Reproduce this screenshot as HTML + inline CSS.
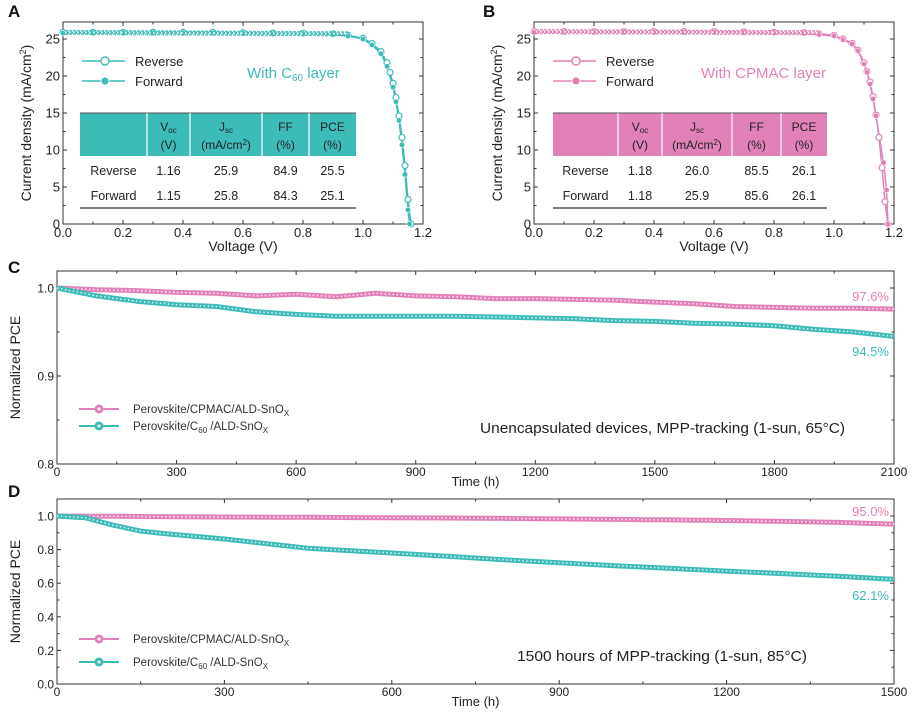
<!DOCTYPE html>
<html><head><meta charset="utf-8">
<style>
html,body{margin:0;padding:0;background:#fff;}
svg{display:block;font-family:"Liberation Sans",sans-serif;}
.nar{font-family:"Liberation Sans Narrow","Liberation Sans",sans-serif;}
</style></head>
<body>
<svg id="fig" width="912" height="712" viewBox="0 0 912 712" xmlns="http://www.w3.org/2000/svg"></svg>
<script>
// ---- Panel A data (C60) ----
const aRevV=[0,0.1,0.2,0.3,0.4,0.5,0.6,0.7,0.8,0.9,0.95,1.0,1.03,1.06,1.08,1.09,1.1,1.11,1.12,1.13,1.14,1.15,1.16];
const aRevJ=[25.9,25.9,25.9,25.9,25.9,25.9,25.85,25.8,25.8,25.7,25.5,25.1,24.4,23.3,21.8,20.5,19.0,17.1,14.6,11.7,7.9,3.3,0];
const aFwdV=[0,0.1,0.2,0.3,0.4,0.5,0.6,0.7,0.8,0.9,0.95,1.0,1.03,1.06,1.08,1.1,1.11,1.12,1.13,1.14,1.15,1.155];
const aFwdJ=[25.8,25.8,25.8,25.8,25.8,25.8,25.75,25.7,25.7,25.6,25.4,25.0,24.2,23.0,21.3,18.5,16.5,14.0,10.7,6.7,1.9,0];
// ---- Panel B data (CPMAC) ----
const bRevV=[0,0.1,0.2,0.3,0.4,0.5,0.6,0.7,0.8,0.9,0.95,1.0,1.03,1.06,1.08,1.1,1.11,1.12,1.13,1.14,1.15,1.16,1.17,1.18];
const bRevJ=[26.0,26.0,26.0,26.0,26.0,26.0,26.0,25.95,25.9,25.85,25.7,25.5,25.0,24.4,23.5,21.8,20.6,19.2,17.2,14.7,11.7,7.6,3.0,0];
const bFwdV=[0,0.1,0.2,0.3,0.4,0.5,0.6,0.7,0.8,0.9,0.95,1.0,1.03,1.06,1.08,1.1,1.11,1.12,1.13,1.14,1.165,1.175,1.18];
const bFwdJ=[25.9,25.9,25.9,25.9,25.9,25.9,25.9,25.85,25.8,25.75,25.6,25.4,24.9,24.3,23.4,21.6,20.5,18.9,16.9,14.6,8.3,4.6,0];
// ---- Panel C data (65C) ----
const cTime=[0,100,200,300,400,500,600,700,800,900,1000,1100,1200,1300,1400,1500,1600,1700,1800,1900,2000,2100];
const cCPMAC=[1.000,0.998,0.997,0.995,0.994,0.991,0.993,0.990,0.994,0.991,0.990,0.988,0.988,0.987,0.986,0.984,0.982,0.979,0.978,0.977,0.977,0.976];
const cC60=[1.000,0.991,0.985,0.981,0.979,0.973,0.970,0.968,0.968,0.968,0.968,0.967,0.966,0.965,0.963,0.962,0.960,0.959,0.957,0.953,0.950,0.945];
// ---- Panel D data (85C) ----
const dTime=[0,50,100,150,200,300,400,450,500,600,700,800,900,1000,1100,1200,1300,1400,1500];
const dCPMAC=[1.000,0.999,0.998,0.997,0.996,0.994,0.993,0.992,0.991,0.989,0.988,0.986,0.983,0.980,0.977,0.973,0.968,0.962,0.952];
const dC60=[1.000,0.990,0.946,0.910,0.893,0.863,0.827,0.808,0.798,0.780,0.760,0.740,0.722,0.704,0.688,0.672,0.657,0.641,0.623];
// ---- ticks ----
const jvXTicks=["0.0","0.2","0.4","0.6","0.8","1.0","1.2"];
const jvYTicks=["0","5","10","15","20","25"];
const cXTicks=["0","300","600","900","1200","1500","1800","2100"];
const cYTicks=["0.8","0.9","1.0"];
const dXTicks=["0","300","600","900","1200","1500"];
const dYTicks=["0.0","0.2","0.4","0.6","0.8","1.0"];

const TEAL="#3dbcb7", PINK="#e281b7", TXT="#222";
const NS="http://www.w3.org/2000/svg";
const svg=document.getElementById('fig');
function mk(tag,attrs,parent,txt){const e=document.createElementNS(NS,tag);for(const k in attrs)e.setAttribute(k,attrs[k]);if(txt!==undefined)e.textContent=txt;(parent||svg).appendChild(e);return e;}
function lin(d0,d1,r0,r1){return v=>r0+(v-d0)/(d1-d0)*(r1-r0);}

function axesBox(g,x0,y0,x1,y1){
  const r=mk('rect',{x:x0,y:y0,width:x1-x0,height:y1-y0,fill:'none',stroke:'#333','stroke-width':1},g);
  
}
function xTicks(g,labels,sx,y0,y1,fs,cls,nameP,off){
  labels.forEach((l,i)=>{const v=parseFloat(l);const x=sx(v);
    mk('line',{x1:x,x2:x,y1:y1,y2:y1-4,stroke:'#333'},g);mk('line',{x1:x,x2:x,y1:y0,y2:y0+4,stroke:'#333'},g);
    const t=mk('text',{x:x,y:y1+off,'text-anchor':'middle','font-size':fs,fill:TXT,class:cls||''},g,l);
    
    if(i<labels.length-1){const xm=(x+sx(parseFloat(labels[i+1])))/2;mk('line',{x1:xm,x2:xm,y1:y1,y2:y1-2.5,stroke:'#333'},g);mk('line',{x1:xm,x2:xm,y1:y0,y2:y0+2.5,stroke:'#333'},g);}
  });
}
function yTicks(g,labels,sy,x0,x1,fs,nameP){
  labels.forEach((l,i)=>{const v=parseFloat(l);const y=sy(v);
    mk('line',{x1:x0,x2:x0+4,y1:y,y2:y,stroke:'#333'},g);mk('line',{x1:x1,x2:x1-4,y1:y,y2:y,stroke:'#333'},g);
    const t=mk('text',{x:x0-3,y:y+4.5,'text-anchor':'end','font-size':fs,fill:TXT},g,l);
    
    if(i<labels.length-1){const ym=(y+sy(parseFloat(labels[i+1])))/2;mk('line',{x1:x0,x2:x0+2.5,y1:ym,y2:ym,stroke:'#333'},g);mk('line',{x1:x1,x2:x1-2.5,y1:ym,y2:ym,stroke:'#333'},g);}
  });
}
function pts(xs,ys,sx,sy){return xs.map((x,i)=>sx(x).toFixed(1)+','+sy(ys[i]).toFixed(1)).join(' ');}

function jvPanel(px0,xs,js,xs2,js2,col,label,table,letter,lx,name){
  const g=mk('g',{});
  const x0=px0,x1=px0+360,y0=22,y1=224;
  const sx=lin(0,1.2,x0,x1), sy=lin(0,25,224,39);
  axesBox(g,x0,y0,x1,y1);
  xTicks(g,jvXTicks,sx,y0,y1,13,'',name,13);yTicks(g,jvYTicks,sy,x0,x1,13,name);
  const pr=mk('polyline',{points:pts(xs,js,sx,sy),fill:'none',stroke:col,'stroke-width':1.5},g);
  
  const pf=mk('polyline',{points:pts(xs2,js2,sx,sy),fill:'none',stroke:col,'stroke-width':1.5},g);
  
  xs.forEach((v,i)=>{const c=mk('circle',{cx:sx(v),cy:sy(js[i]),r:3,fill:'#fff',stroke:col,'stroke-width':1.2},g);
    });
  xs2.forEach((v,i)=>{const c=mk('circle',{cx:sx(v),cy:sy(js2[i]),r:2.8,fill:col,stroke:'#fff','stroke-width':0.6},g);
    });
  mk('line',{x1:x0+2,x2:sx(0.95),y1:sy(js[0]),y2:sy(js[9]),stroke:col,'stroke-width':5,'stroke-dasharray':'3 1','opacity':0.85},g);
  mk('line',{x1:x0+2,x2:sx(0.95),y1:sy(js[0]),y2:sy(js[9]),stroke:'#fff','stroke-width':2,'stroke-dasharray':'1.5 2.5'},g);
  const L=mk('g',{},g);
  mk('line',{x1:x0+19,x2:x0+62,y1:61,y2:61,stroke:col,'stroke-width':1.5},L);
  mk('circle',{cx:x0+42,cy:61,r:4,fill:'#fff',stroke:col,'stroke-width':1.4},L);
  mk('text',{x:x0+72,y:66,'font-size':13,fill:TXT},L,'Reverse');
  mk('line',{x1:x0+19,x2:x0+62,y1:81,y2:81,stroke:col,'stroke-width':1.5},L);
  mk('circle',{cx:x0+42,cy:81,r:4,fill:col,stroke:'#fff','stroke-width':0.8},L);
  mk('text',{x:x0+72,y:86,'font-size':13,fill:TXT},L,'Forward');
  const lab=mk('text',{x:x0+lx,y:78,'font-size':15,fill:col},g);lab.innerHTML=label;
  
  const T=mk('g',{},g);
  const tx0=table.x0, tx1=table.x1, cols=table.cols;
  mk('rect',{x:tx0,y:113,width:tx1-tx0,height:43,fill:col},T);
  mk('line',{x1:tx0,x2:tx1,y1:113,y2:113,stroke:'#555','stroke-width':1},T);
  mk('line',{x1:tx0,x2:tx1,y1:208,y2:208,stroke:'#333','stroke-width':1.2},T);
  cols.forEach(c=>mk('line',{x1:c,x2:c,y1:113,y2:156,stroke:'#fff','stroke-width':1.2},T));
  const centers=[(cols[0]+cols[1])/2,(cols[1]+cols[2])/2,(cols[2]+cols[3])/2,(cols[3]+tx1)/2];
  const h1=['V<tspan font-size="8" dy="2">oc</tspan>','J<tspan font-size="8" dy="2">sc</tspan>','FF','PCE'];
  const h2=['(V)','(mA/cm<tspan font-size="8" dy="-4">2</tspan><tspan dy="4">)</tspan>','(%)','(%)'];
  centers.forEach((cx,i)=>{const a=mk('text',{x:cx,y:131,'text-anchor':'middle','font-size':12,fill:'#222'},T);a.innerHTML=h1[i];
    const b=mk('text',{x:cx,y:149,'text-anchor':'middle','font-size':12,fill:'#222'},T);b.innerHTML=h2[i];});
  const rowX=(tx0+cols[0])/2;
  table.rows.forEach((r,k)=>{const y=175+k*25;
    mk('text',{x:rowX,y:y,'text-anchor':'middle','font-size':12.5,fill:'#222'},T,r[0]);
    centers.forEach((cx,i)=>mk('text',{x:cx,y:y,'text-anchor':'middle','font-size':12.5,fill:'#222'},T,r[i+1]));});
  const xt=mk('text',{x:(x0+x1)/2,y:251,'text-anchor':'middle','font-size':14,fill:TXT},g,'Voltage (V)');
  
  const yt=mk('text',{x:0,y:0,'text-anchor':'middle','font-size':14,fill:TXT,transform:`translate(${x0-32},123) rotate(-90)`},g);
  yt.innerHTML='Current density (mA/cm<tspan font-size="9" dy="-5">2</tspan><tspan dy="5">)</tspan>';
  
  const pl=mk('text',{x:letter[0],y:letter[1],'font-size':17,'font-weight':'bold',fill:'#111'},g,letter[2]);
  
}

jvPanel(63,aRevV,aRevJ,aFwdV,aFwdJ,TEAL,'With C<tspan font-size="10" dy="3">60</tspan><tspan dy="-3"> layer</tspan>',
  {x0:80,x1:356,cols:[147,190,262,309],rows:[['Reverse','1.16','25.9','84.9','25.5'],['Forward','1.15','25.8','84.3','25.1']]},[8,17,'A'],184,'panel-a');
jvPanel(534,bRevV,bRevJ,bFwdV,bFwdJ,PINK,'With CPMAC layer',
  {x0:553,x1:827,cols:[618,662,732,781],rows:[['Reverse','1.18','26.0','85.5','26.1'],['Forward','1.18','25.9','85.6','26.1']]},[483,17,'B'],167,'panel-b');

function stabPanel(o){
  const g=mk('g',{});
  const x0=57,x1=894,y0=o.y0,y1=o.y1;
  const sx=lin(0,o.tmax,x0,x1), sy=lin(o.ymin,o.ymax,y1,o.ytop);
  axesBox(g,x0,y0,x1,y1);
  xTicks(g,o.xt,sx,y0,y1,12,'nar',o.name,12);yTicks(g,o.yt,sy,x0,x1,12,o.name);
  [[o.pink,PINK,'cpmac-series'],[o.teal,TEAL,'c60-series']].forEach(([ys,col,nm])=>{
    const p=mk('polyline',{points:pts(o.t,ys,sx,sy),fill:'none',stroke:col,'stroke-width':5,'stroke-linejoin':'round'},g);
    
    mk('polyline',{points:pts(o.t,ys,sx,sy),fill:'none',stroke:'#fff','stroke-width':1.6,'stroke-dasharray':'1.5 2.5','opacity':0.8},g);
  });
  const L=mk('g',{},g);
  [[PINK,o.ly[0],'Perovskite/CPMAC/ALD-SnO<tspan font-size="8" dy="3">X</tspan>'],[TEAL,o.ly[1],'Perovskite/C<tspan font-size="8" dy="3">60</tspan><tspan dy="-3"> /ALD-SnO</tspan><tspan font-size="8" dy="3">X</tspan>']].forEach(([col,y,txt])=>{
    mk('line',{x1:79,x2:119,y1:y,y2:y,stroke:col,'stroke-width':2},L);
    mk('circle',{cx:99,cy:y,r:4.5,fill:col},L);mk('circle',{cx:99,cy:y,r:1.5,fill:'#fff'},L);
    const t=mk('text',{x:133,y:y+4,'font-size':11.5,fill:'#333',class:'nar'},L);t.innerHTML=txt;});
  const an=mk('text',{x:o.ax,y:o.ay,'font-size':15,fill:'#222',class:'nar',textLength:o.aw,lengthAdjust:'spacingAndGlyphs'},g,o.note);
  
  const p1=mk('text',{x:889,y:sy(o.pink[o.pink.length-1])-8,'text-anchor':'end','font-size':13,fill:PINK,class:'nar'},g,o.pl);
  
  const p2=mk('text',{x:889,y:o.tly,'text-anchor':'end','font-size':13,fill:TEAL,class:'nar'},g,o.tl);
  
  const xt=mk('text',{x:(x0+x1)/2,y:y1+o.tty,'text-anchor':'middle','font-size':13,fill:TXT,class:'nar'},g,'Time (h)');
  
  const yt=mk('text',{x:0,y:0,'text-anchor':'middle','font-size':14,fill:TXT,transform:`translate(${o.ytx},${(y0+y1)/2}) rotate(-90)`},g,'Normalized PCE');
  
  const pl=mk('text',{x:8,y:o.ly0,'font-size':17,'font-weight':'bold',fill:'#111'},g,o.letter);
  
}
stabPanel({name:'panel-c',y0:271,y1:464,ytop:288,ymin:0.8,ymax:1.0,tmax:2100,t:cTime,pink:cCPMAC,teal:cC60,xt:cXTicks,yt:cYTicks,
  ly:[409,426],ax:480,ay:433,aw:365,note:'Unencapsulated devices, MPP-tracking (1-sun, 65°C)',pl:'97.6%',tl:'94.5%',tly:356,ytx:20,ly0:273,letter:'C',tty:22});
stabPanel({name:'panel-d',y0:499,y1:684,ytop:516,ymin:0,ymax:1.0,tmax:1500,t:dTime,pink:dCPMAC,teal:dC60,xt:dXTicks,yt:dYTicks,
  ly:[639,662],ax:517,ay:661,aw:290,note:'1500 hours of MPP-tracking (1-sun, 85°C)',pl:'95.0%',tl:'62.1%',tly:600,ytx:20,ly0:497,letter:'D',tty:22});
</script>
</body></html>
